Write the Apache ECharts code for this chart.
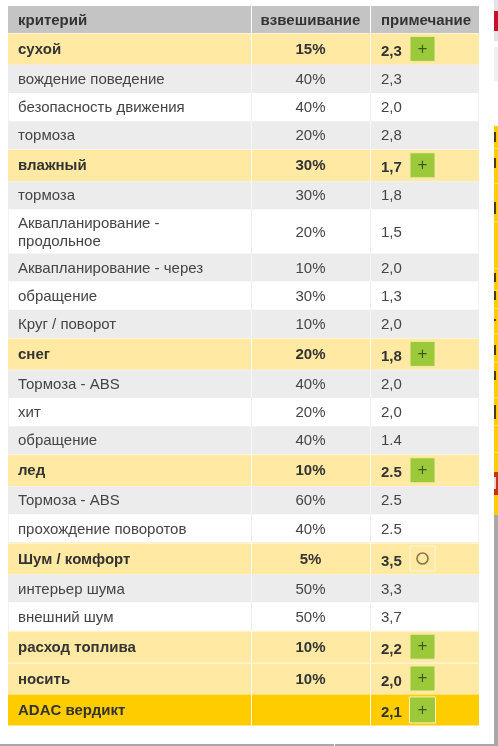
<!DOCTYPE html>
<html>
<head>
<meta charset="utf-8">
<title>ADAC</title>
<style>
html, body { margin: 0; padding: 0; background: #fff; }
#main { width: 498px; height: 746px; }
</style>
<script src="https://cdn.jsdelivr.net/npm/echarts@6/dist/echarts.min.js"></script>
</head>
<body>
<div id="main"></div>
<script>
// table content
var headers = ['критерий', 'взвешивание', 'примечание'];
var criteria = ['сухой', 'вождение поведение', 'безопасность движения', 'тормоза',
    'влажный', 'тормоза', 'Аквапланирование -\nпродольное', 'Аквапланирование - через', 'обращение', 'Круг / поворот',
    'снег', 'Тормоза - ABS', 'хит', 'обращение',
    'лед', 'Тормоза - ABS', 'прохождение поворотов',
    'Шум / комфорт', 'интерьер шума', 'внешний шум',
    'расход топлива', 'носить', 'ADAC вердикт'];
var weights = ['15%', '40%', '40%', '20%',
    '30%', '30%', '20%', '10%', '30%', '10%',
    '20%', '40%', '20%', '40%',
    '10%', '60%', '40%',
    '5%', '50%', '50%',
    '10%', '10%', ''];
var notes = ['2,3', '2,3', '2,0', '2,8',
    '1,7', '1,8', '1,5', '2,0', '1,3', '2,0',
    '1,8', '2,0', '2,0', '1.4',
    '2.5', '2.5', '2.5',
    '3,5', '3,3', '3,7',
    '2,2', '2,0', '2,1'];
var badges = ['+', '', '', '',
    '+', '', '', '', '', '',
    '+', '', '', '',
    '+', '', '',
    'o', '', '',
    '+', '+', '+'];

// row heights and colours
var colEdges = [0, 243, 362, 471];
var heights = { head: 27, group: 31.8, item: 28.2, tall: 44, total: 31 };
var colors = { head: '#c4c4c4', group: '#ffe9a3', total: '#ffcc00', grey: '#ececec', white: '#ffffff' };
var FONT = '"Liberation Sans", Arial, sans-serif';

var rows = [];
var tableH = heights.head;
var stripe = 0;
rows.push({ kind: 'head', y0: 0, y1: tableH, texts: headers, fill: colors.head });
criteria.forEach(function (name, i) {
    var kind = 'item';
    if (badges[i]) kind = i == criteria.length - 1 ? 'total' : 'group';
    else if (name.indexOf('\n') >= 0) kind = 'tall';
    var fill;
    if (kind == 'group' || kind == 'total') {
        fill = colors[kind];
        stripe = 0;
    } else {
        fill = stripe % 2 == 0 ? colors.grey : colors.white;
        stripe++;
    }
    rows.push({ kind: kind, y0: tableH, y1: tableH + heights[kind], texts: [name, weights[i], notes[i]], fill: fill, badge: badges[i] });
    tableH += heights[kind];
});

function renderRow(params, api) {
    var row = rows[api.value(0)];
    var bold = row.kind == 'head' || row.kind == 'group' || row.kind == 'total';
    var font = (bold ? 'bold ' : '') + '15px ' + FONT;
    var color = bold ? '#333' : '#444';
    var lt = api.coord([0, row.y0]);
    var rb = api.coord([colEdges[3], row.y1]);
    var midY = (lt[1] + rb[1]) / 2 + 1;
    var kids = [{
        type: 'rect',
        shape: { x: lt[0], y: lt[1], width: rb[0] - lt[0], height: rb[1] - lt[1] },
        style: { fill: row.fill }
    }];
    // cell separators
    var sep = row.fill == colors.white ? '#eeeeee' : (row.fill == colors.grey ? '#f6f6f6' : '#ffffff');
    [1, 2].forEach(function (c) {
        var x = Math.round(api.coord([colEdges[c], 0])[0]) + 0.5;
        kids.push({ type: 'line', shape: { x1: x, y1: lt[1], x2: x, y2: rb[1] }, style: { stroke: sep, lineWidth: 1 } });
    });
    if (row.fill == colors.white) {
        [lt[0] + 0.5, rb[0] - 0.5].forEach(function (x) {
            kids.push({ type: 'line', shape: { x1: x, y1: lt[1], x2: x, y2: rb[1] }, style: { stroke: '#f2f2f2', lineWidth: 1 } });
        });
    }
    if (row.kind == 'group') {
        kids.push({ type: 'line', shape: { x1: lt[0], y1: Math.round(lt[1]) + 0.5, x2: rb[0], y2: Math.round(lt[1]) + 0.5 },
            style: { stroke: 'rgba(255,255,255,0.5)', lineWidth: 1 } });
    }

    var col2 = (api.coord([colEdges[1], 0])[0] + api.coord([colEdges[2], 0])[0]) / 2;
    var col3 = api.coord([colEdges[2], 0])[0] + 11;
    var noteShift = row.badge ? 2 : 0;
    kids.push({ type: 'text', style: { text: row.texts[0], x: lt[0] + 10, y: midY, fill: color, font: font, lineHeight: 18, align: 'left', verticalAlign: 'middle' } });
    if (row.texts[1]) {
        kids.push({ type: 'text', style: { text: row.texts[1], x: col2, y: midY, fill: color, font: font, align: 'center', verticalAlign: 'middle' } });
    }
    kids.push({ type: 'text', style: { text: row.texts[2], x: col3, y: midY + noteShift, fill: color, font: font, align: 'left', verticalAlign: 'middle' } });

    if (row.badge) {
        var boxMid = midY - 1;
        var bx = col3 + 29, size = row.kind == 'total' ? 26 : 25;
        var by = boxMid - size / 2;
        var isPlus = row.badge == '+';
        kids.push({
            type: 'rect',
            shape: { x: bx - (size - 25) / 2, y: by, width: size, height: size },
            style: { fill: isPlus ? '#9bc93a' : 'transparent', stroke: isPlus ? (row.kind == 'total' ? '#fff3c0' : '#f4e9a8') : '#fff6d8', lineWidth: 1 }
        });
        if (isPlus) {
            kids.push({ type: 'text', style: { text: '+', x: bx + 12.5, y: boxMid, fill: '#3c5a1e', font: '17px ' + FONT, align: 'center', verticalAlign: 'middle' } });
        } else {
            kids.push({ type: 'circle', shape: { cx: bx + 12.5, cy: boxMid, r: 5.5 }, style: { fill: 'transparent', stroke: '#85784e', lineWidth: 1.6 } });
        }
    }
    return { type: 'group', children: kids };
}

// the cropped neighbouring page column at the right edge of the screenshot
var sideRects = [
    [494, 0, 4, 11, '#e4e4e4'], [494, 11, 4, 20, '#c8102e'], [494, 31, 4, 10, '#e4e4e4'],
    [494, 47, 4, 34, '#f0f0f0'], [494, 126, 4, 389, '#ffcc00'], [494, 472, 4, 23, '#c8321a'],
    [494, 515, 4, 231, '#a8a8a8'], [0, 744, 334, 2, '#a8a8a8'], [335, 744, 163, 2, '#a8a8a8']
];
var sideLines = [148, 183, 221, 268, 290, 308, 333, 362, 397, 425, 452];
var sideStubs = [[132, 10], [158, 10], [202, 12], [273, 9], [291, 9], [319, 2], [345, 10], [371, 9], [405, 14]];
var sideGraphic = sideRects.map(function (r) {
    return { type: 'rect', silent: true, shape: { x: r[0], y: r[1], width: r[2], height: r[3] }, style: { fill: r[4] } };
}).concat(sideLines.map(function (y) {
    return { type: 'rect', silent: true, shape: { x: 494, y: y, width: 4, height: 1 }, style: { fill: '#ffe27a' } };
})).concat(sideStubs.map(function (s) {
    return { type: 'rect', silent: true, shape: { x: 494, y: s[0], width: 2, height: s[1] }, style: { fill: '#4a3a10' } };
}));
sideGraphic.push({ type: 'rect', silent: true, shape: { x: 494, y: 477, width: 2, height: 12 }, style: { fill: '#f4d0c8' } });

var myChart = echarts.init(document.getElementById('main'));
var option = {
    animation: false,
    backgroundColor: '#ffffff',
    grid: { left: 8, top: 6, width: 471, height: tableH },
    xAxis: { type: 'value', min: 0, max: colEdges[3], show: false },
    yAxis: { type: 'value', min: 0, max: tableH, inverse: true, show: false },
    graphic: sideGraphic,
    series: [{
        type: 'custom',
        clip: false,
        silent: true,
        renderItem: renderRow,
        encode: { x: 1, y: 2 },
        data: rows.map(function (r, i) { return [i, 0, r.y0]; })
    }]
};
myChart.setOption(option);
</script>
</body>
</html>
